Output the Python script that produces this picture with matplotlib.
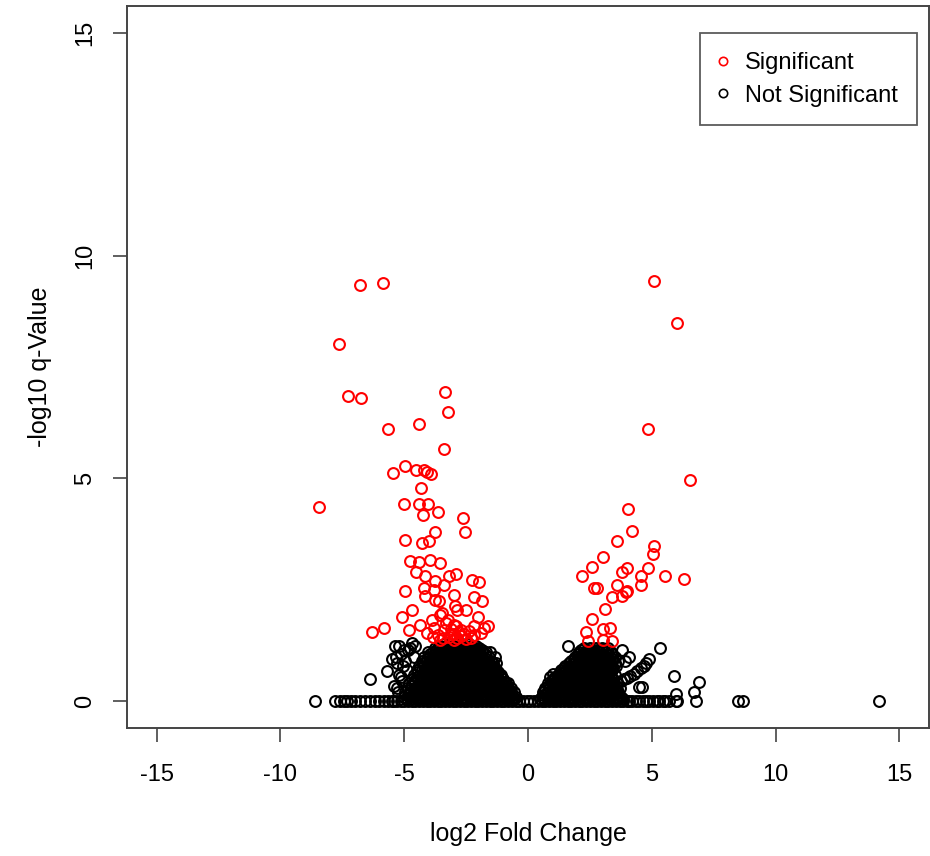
import matplotlib
matplotlib.use("Agg")
import matplotlib.pyplot as plt
from matplotlib.lines import Line2D

plt.rcParams['font.family'] = ['Liberation Sans', 'DejaVu Sans']

# significant genes (red)
sig_x = [-6.79, -5.85, -7.64, -7.28, -6.75, -5.65, -3.35, -3.24, -3.41, -4.39, -8.46,
         5.08, 6.02, 4.84, 6.54,
         -5.46, -4.96, -4.51, -4.20, -4.07, -3.90, -4.32, -5.01, -4.39, -4.02, -4.23, -3.62,
         -2.64, -2.53, -3.74, -4.96, -4.27, -4.00,
         -4.77, -4.40, -3.94, -3.54, -4.51, -4.15, -3.74, -3.18, -2.89, -2.28, -1.96, -4.96,
         -4.20, -3.79, -3.39, -2.98, -2.17, -1.87, -4.15, -3.74, -4.67, -3.46, -2.85, -2.52,
         -5.08, -2.03,
         -6.30, -5.83, -4.81, -4.35, -3.86, -3.54, -3.25, -2.98, -2.72, -2.17, -1.91, -3.13,
         -3.39, -3.79, -4.07, -2.72, -2.32, -1.76, -3.59, -2.93, -1.63,
         -3.20, -3.00, -2.80, -3.45, -2.60, -3.10, -2.90, -3.30, -2.50, -3.65, -2.40, -3.00,
         -2.85, -3.55, -2.20, -3.85,
         4.04, 4.20, 3.61, 3.05, 5.09, 5.04, 2.57, 2.20, 4.00, 3.79, 4.83, 4.58, 5.53, 6.30,
         4.58, 3.59, 2.68, 2.78, 4.00, 3.39, 3.79, 3.12, 2.57, 3.97, 2.33, 3.05, 3.32, 2.41,
         3.05, 3.39]
sig_y = [9.35, 9.38, 8.01, 6.85, 6.81, 6.12, 6.94, 6.49, 5.65, 6.21, 4.35,
         9.44, 8.48, 6.11, 4.96,
         5.13, 5.27, 5.20, 5.20, 5.14, 5.09, 4.78, 4.42, 4.42, 4.42, 4.17, 4.25,
         4.11, 3.79, 3.79, 3.62, 3.56, 3.60,
         3.15, 3.13, 3.17, 3.10, 2.89, 2.80, 2.69, 2.81, 2.86, 2.71, 2.68, 2.48,
         2.54, 2.50, 2.61, 2.39, 2.35, 2.26, 2.37, 2.28, 2.05, 1.99, 2.05, 2.05,
         1.88, 1.90,
         1.55, 1.65, 1.61, 1.72, 1.83, 1.94, 1.83, 1.72, 1.61, 1.68, 1.54, 1.50,
         1.61, 1.65, 1.54, 1.46, 1.43, 1.65, 2.24, 2.13, 1.68,
         1.45, 1.52, 1.56, 1.42, 1.50, 1.62, 1.68, 1.75, 1.40, 1.48, 1.58, 1.38,
         1.42, 1.38, 1.48, 1.45,
         4.32, 3.82, 3.60, 3.23, 3.48, 3.30, 3.02, 2.81, 2.98, 2.91, 2.98, 2.81, 2.81, 2.74,
         2.61, 2.61, 2.54, 2.54, 2.48, 2.35, 2.37, 2.07, 1.85, 2.46, 1.55, 1.62, 1.65, 1.35,
         1.37, 1.35]

# not significant: genes with q-value of 1 (y = 0)
ns_zero_x = [-8.6, -7.8, -7.6, -7.45, -7.3, -7.15, -7.0, -6.8, -6.6, -6.4, -6.2, -6.0,
             -5.8, -5.65, -5.5, -5.4,
             -5.3, -5.15, -5.0, -4.85, -4.7, -4.55, -4.4, -4.25, -4.1, -3.95, -3.8, -3.65,
             -3.5, -3.35, -3.2, -3.05, -2.9, -2.75, -2.6, -2.45, -2.3, -2.15, -2.0, -1.85,
             -1.7, -1.55, -1.4, -1.25, -1.1, -0.95, -0.8, -0.65, -0.5, -0.35, -0.2, -0.05,
             0.1, 0.25, 0.4, 0.55, 0.7, 0.85, 1.0, 1.15, 1.3, 1.45, 1.6, 1.75, 1.9, 2.05,
             2.2, 2.35, 2.5, 2.65, 2.8, 2.95, 3.1, 3.25, 3.4, 3.55, 3.7, 3.85, 4.0, 4.1,
             4.2, 4.35, 4.5, 4.65, 4.78, 4.9, 5.05, 5.2, 5.3, 5.45, 5.55, 5.7, 5.96, 6.03,
             6.78, 8.47, 8.67, 14.16]

# not significant: left mound, x values per q-value level
ns_left_rows = {
    0.05: [-4.9, -4.7, -4.5, -4.3, -4.1, -3.9, -3.7, -3.5, -3.3, -3.1, -2.9, -2.7, -2.5,
           -2.3, -2.1, -1.9, -1.7, -1.5, -1.3, -1.1, -0.9, -0.7, -0.55],
    0.1: [-5.02, -4.81, -4.6, -4.42, -4.2, -4.01, -3.79, -3.6, -3.41, -3.2, -3.0, -2.81,
          -2.6, -2.4, -2.19, -2.0, -1.8, -1.61, -1.4, -1.2, -1.0, -0.81, -0.62, -0.48],
    0.15: [-4.85, -4.65, -4.45, -4.25, -4.05, -3.85, -3.65, -3.45, -3.25, -3.05, -2.85,
           -2.65, -2.45, -2.25, -2.05, -1.85, -1.65, -1.45, -1.25, -1.05, -0.85, -0.65],
    0.2: [-4.95, -4.72, -4.5, -4.31, -4.1, -3.9, -3.7, -3.49, -3.3, -3.1, -2.9, -2.7,
          -2.5, -2.3, -2.1, -1.9, -1.7, -1.5, -1.3, -1.1, -0.9, -0.7, -0.58],
    0.25: [-4.75, -4.52, -4.3, -4.1, -3.9, -3.7, -3.5, -3.3, -3.1, -2.9, -2.7, -2.5, -2.3,
           -2.1, -1.9, -1.7, -1.5, -1.3, -1.1, -0.9, -0.75],
    0.3: [-4.88, -4.62, -4.4, -4.19, -4.0, -3.8, -3.6, -3.4, -3.2, -3.0, -2.8, -2.6,
          -2.4, -2.2, -2.0, -1.8, -1.6, -1.4, -1.2, -1.0, -0.82, -0.7],
    0.35: [-4.7, -4.45, -4.22, -4.0, -3.8, -3.6, -3.4, -3.2, -3.0, -2.8, -2.6, -2.4, -2.2,
           -2.0, -1.8, -1.6, -1.4, -1.2, -1.0, -0.85],
    0.4: [-4.8, -4.55, -4.3, -4.1, -3.9, -3.7, -3.5, -3.3, -3.1, -2.9, -2.7, -2.5,
          -2.3, -2.1, -1.9, -1.7, -1.5, -1.3, -1.1, -0.92, -0.8],
    0.45: [-4.6, -4.35, -4.12, -3.9, -3.7, -3.5, -3.3, -3.1, -2.9, -2.7, -2.5, -2.3, -2.1,
           -1.9, -1.7, -1.5, -1.3, -1.1],
    0.5: [-4.7, -4.45, -4.2, -4.0, -3.8, -3.6, -3.4, -3.2, -3.0, -2.8, -2.6, -2.4,
          -2.2, -2.0, -1.8, -1.6, -1.4, -1.2, -1.03],
    0.55: [-4.5, -4.27, -4.05, -3.85, -3.65, -3.45, -3.25, -3.05, -2.85, -2.65, -2.45,
           -2.25, -2.05, -1.85, -1.65, -1.45, -1.25, -1.1],
    0.6: [-4.6, -4.38, -4.15, -3.95, -3.75, -3.55, -3.35, -3.15, -2.95, -2.75, -2.55,
          -2.35, -2.15, -1.95, -1.75, -1.55, -1.35, -1.15],
    0.65: [-4.45, -4.2, -3.98, -3.78, -3.58, -3.38, -3.18, -2.98, -2.78, -2.58, -2.38,
           -2.18, -1.98, -1.78, -1.58, -1.38, -1.22],
    0.7: [-4.5, -4.3, -4.08, -3.88, -3.68, -3.48, -3.28, -3.08, -2.88, -2.68, -2.48,
          -2.28, -2.08, -1.88, -1.68, -1.48, -1.28],
    0.75: [-4.35, -4.1, -3.9, -3.7, -3.5, -3.3, -3.1, -2.9, -2.7, -2.5, -2.3, -2.1, -1.9,
           -1.7, -1.5, -1.33],
    0.8: [-4.4, -4.2, -4.0, -3.8, -3.6, -3.4, -3.2, -3.0, -2.8, -2.6, -2.4, -2.2, -2.0,
          -1.8, -1.6, -1.4],
    0.85: [-4.25, -4.0, -3.8, -3.6, -3.4, -3.2, -3.0, -2.8, -2.6, -2.4, -2.2, -2.0, -1.8,
           -1.6, -1.42],
    0.9: [-4.3, -4.1, -3.9, -3.7, -3.5, -3.3, -3.1, -2.9, -2.7, -2.5, -2.3, -2.1, -1.9,
          -1.7, -1.5],
    0.95: [-4.1, -3.88, -3.68, -3.48, -3.28, -3.08, -2.88, -2.68, -2.48, -2.28, -2.08,
           -1.88, -1.68],
    1.0: [-4.2, -3.98, -3.78, -3.58, -3.38, -3.18, -2.98, -2.78, -2.58, -2.38, -2.18,
          -1.98, -1.78, -1.58],
    1.05: [-3.95, -3.75, -3.55, -3.35, -3.15, -2.95, -2.75, -2.55, -2.35, -2.15, -1.95,
           -1.75],
    1.1: [-4.05, -3.85, -3.65, -3.45, -3.25, -3.05, -2.85, -2.65, -2.45, -2.25, -2.05,
          -1.85, -1.68],
    1.15: [-3.7, -3.45, -3.25, -3.05, -2.85, -2.65, -2.45, -2.25, -2.05, -1.85],
    1.2: [-3.75, -3.55, -3.35, -3.15, -2.95, -2.75, -2.55, -2.35, -2.15, -1.98],
    1.24: [-3.6, -3.3, -3.05, -2.8, -2.55, -2.3, -2.1],
    1.28: [-3.4, -3.15, -2.9, -2.65, -2.4],
}

# not significant: right mound
ns_right_rows = {
    0.05: [0.5, 0.65, 0.85, 1.05, 1.25, 1.45, 1.65, 1.85, 2.05, 2.25, 2.45, 2.65, 2.85,
           3.05, 3.25, 3.45, 3.65, 3.85],
    0.1: [0.55, 0.75, 0.95, 1.15, 1.35, 1.55, 1.75, 1.95, 2.15, 2.35, 2.55, 2.75, 2.95,
          3.15, 3.35, 3.55, 3.75],
    0.15: [0.6, 0.85, 1.05, 1.25, 1.45, 1.65, 1.85, 2.05, 2.25, 2.45, 2.65, 2.85, 3.05,
           3.25, 3.45, 3.65],
    0.2: [0.62, 0.82, 1.02, 1.22, 1.42, 1.62, 1.82, 2.02, 2.22, 2.42, 2.62, 2.82, 3.02,
          3.22, 3.42, 3.62],
    0.25: [0.7, 0.95, 1.2, 1.4, 1.6, 1.8, 2.0, 2.2, 2.4, 2.6, 2.8, 3.0, 3.2, 3.4, 3.6],
    0.3: [0.7, 0.9, 1.1, 1.3, 1.5, 1.7, 1.9, 2.1, 2.3, 2.5, 2.7, 2.9, 3.1, 3.3, 3.5, 3.7],
    0.35: [0.8, 1.05, 1.3, 1.5, 1.7, 1.9, 2.1, 2.3, 2.5, 2.7, 2.9, 3.1, 3.3, 3.55],
    0.4: [0.8, 1.0, 1.2, 1.4, 1.6, 1.8, 2.0, 2.2, 2.4, 2.6, 2.8, 3.0, 3.2, 3.4, 3.6],
    0.45: [0.95, 1.15, 1.35, 1.55, 1.75, 1.95, 2.15, 2.35, 2.55, 2.75, 2.95, 3.15, 3.35],
    0.5: [1.0, 1.2, 1.4, 1.6, 1.8, 2.0, 2.2, 2.4, 2.6, 2.8, 3.0, 3.2, 3.45],
    0.55: [1.1, 1.3, 1.5, 1.7, 1.9, 2.1, 2.3, 2.5, 2.7, 2.9, 3.1, 3.35],
    0.6: [1.2, 1.4, 1.6, 1.8, 2.0, 2.2, 2.4, 2.6, 2.8, 3.0, 3.2, 3.5],
    0.65: [1.3, 1.5, 1.7, 1.9, 2.1, 2.3, 2.5, 2.7, 2.9, 3.1, 3.3],
    0.7: [1.35, 1.55, 1.75, 1.95, 2.15, 2.35, 2.55, 2.75, 2.95, 3.15, 3.4],
    0.75: [1.45, 1.65, 1.85, 2.05, 2.25, 2.45, 2.65, 2.85, 3.05, 3.25, 3.45],
    0.8: [1.5, 1.7, 1.9, 2.1, 2.3, 2.5, 2.7, 2.9, 3.1, 3.3, 3.55],
    0.85: [1.65, 1.85, 2.05, 2.25, 2.45, 2.65, 2.85, 3.05, 3.25, 3.5],
    0.9: [1.75, 1.95, 2.15, 2.35, 2.55, 2.75, 2.95, 3.15, 3.4, 3.65],
    0.95: [1.85, 2.05, 2.25, 2.45, 2.65, 2.85, 3.05, 3.25, 3.45],
    1.0: [1.9, 2.1, 2.3, 2.5, 2.7, 2.9, 3.1, 3.3, 3.5],
    1.05: [2.0, 2.2, 2.4, 2.6, 2.8, 3.0, 3.2, 3.4],
    1.1: [2.05, 2.3, 2.5, 2.7, 2.9, 3.1, 3.35],
    1.15: [2.15, 2.4, 2.6, 2.8, 3.0, 3.2],
    1.2: [2.25, 2.5, 2.75, 3.0, 3.25],
}

# scattered not significant genes
ns_x = [-5.37, -5.22, -5.0, -4.75, -4.55, -5.49, -5.69, -6.37, -5.42, -5.2, -5.3, -4.95,
        -5.1, -5.25, -4.9, -4.6, -1.55, -1.35, -1.3, -1.1, -0.9,
        -5.3, -5.15, -5.05, -5.35, -5.15, -4.85, -4.7,
        3.6, 3.75, 3.86, 4.0, 4.13, 4.27, 4.4, 4.55, 4.67, 4.78, 4.88, 4.47, 4.6, 5.35,
        5.89, 6.91, 6.71, 5.96, 3.9, 4.1, 3.8, 0.9, 1.0, 1.63]
ns_y = [1.23, 1.23, 1.15, 1.2, 1.25, 0.94, 0.68, 0.49, 0.34, 0.6, 0.85, 0.9,
        0.45, 0.2, 0.7, 1.0, 1.1, 1.0, 0.85, 0.6, 0.4,
        0.3, 0.55, 0.8, 1.0, 1.05, 1.15, 1.3,
        0.4, 0.45, 0.49, 0.53, 0.56, 0.62, 0.68, 0.74, 0.79, 0.86, 0.94, 0.31, 0.33, 1.2,
        0.56, 0.43, 0.2, 0.16, 0.9, 1.0, 1.15, 0.55, 0.62, 1.23]

xticks = [-15, -10, -5, 0, 5, 10, 15]
yticks = [0, 5, 10, 15]

# collect all non significant points
black_x = list(ns_x) + list(ns_zero_x)
black_y = list(ns_y) + [0.0] * len(ns_zero_x)
for rows in (ns_left_rows, ns_right_rows):
    for lev, xs in rows.items():
        black_x += xs
        black_y += [lev] * len(xs)

fig = plt.figure(figsize=(9.3, 8.56), dpi=100)
ax = fig.add_axes([127 / 930, 128 / 856, 802 / 930, 722 / 856])

mk = dict(marker='o', linestyle='none', markerfacecolor='none', markersize=7.8, markeredgewidth=1.5)
ax.plot(black_x, black_y, color='black', **mk)
ax.plot(sig_x, sig_y, color='red', **mk)

ax.set_xlim(-16.2, 16.2)
ax.set_ylim(-0.6, 15.6)
ax.set_xticks(xticks)
ax.set_yticks(yticks)
ax.set_xticklabels([str(t) for t in xticks], fontsize=17)
ax.set_yticklabels([str(t) for t in yticks], fontsize=17, rotation=90, va='center')
ax.tick_params(axis='both', direction='out', length=10, width=1.2, color='#444444')
ax.tick_params(axis='x', pad=16)
ax.tick_params(axis='y', pad=12)
for s in ax.spines.values():
    s.set_color('#444444')
    s.set_linewidth(1.4)

ax.set_xlabel('log2 Fold Change', fontsize=18, labelpad=26)
ax.set_ylabel('-log10 q-Value', fontsize=18, labelpad=16)

handles = [Line2D([], [], color='red', marker='o', linestyle='none', markerfacecolor='none',
                  markersize=6, markeredgewidth=1.2),
           Line2D([], [], color='black', marker='o', linestyle='none', markerfacecolor='none',
                  markersize=6, markeredgewidth=1.2)]
leg = ax.legend(handles, ['Significant', 'Not Significant'], loc='upper right',
                bbox_to_anchor=(0.985, 0.9626), fontsize=17,
                frameon=True, fancybox=False, edgecolor='#333333', handlelength=0.3,
                handletextpad=0.8, borderpad=0.8, labelspacing=0.45, borderaxespad=0)
leg.get_frame().set_linewidth(1.3)

fig.savefig('out.png', dpi=100)
